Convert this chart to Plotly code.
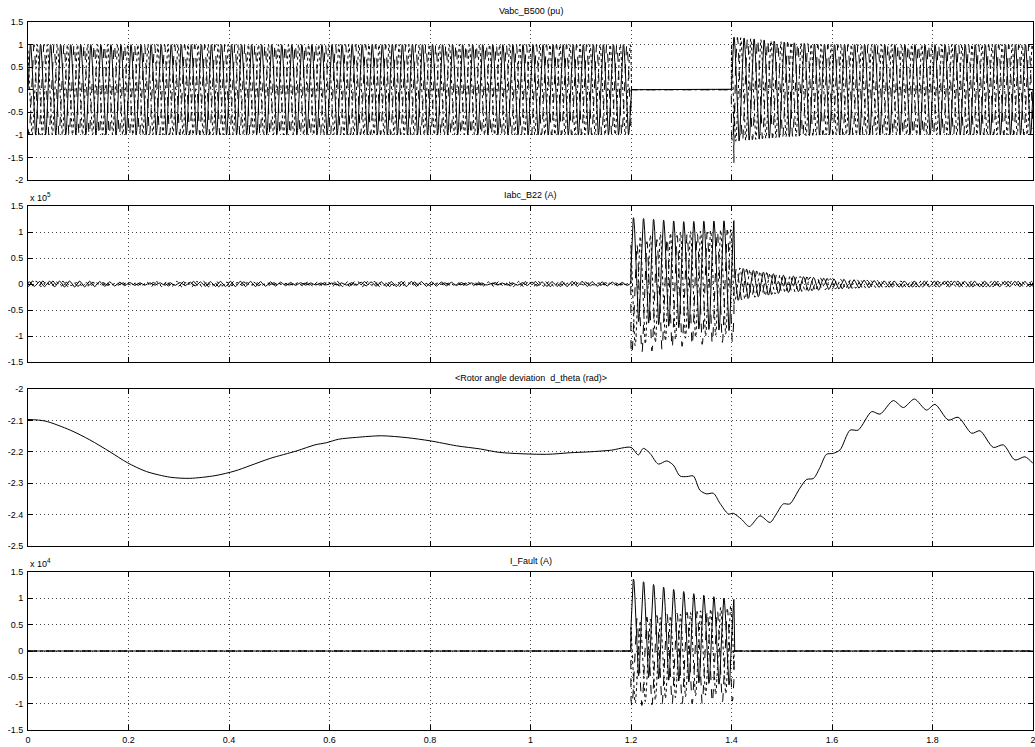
import numpy as np
import plotly.graph_objects as go

# ---------------- data ----------------
F_HZ = 50.0                      # waveform frequency (10 cycles between 1.2 s and 1.4 s)
PHASE_DEG = [0, -120, 120]       # phases a, b, c
DASHES = ["solid", "dash", "dot"]

x_tick_vals = [0, 0.2, 0.4, 0.6, 0.8, 1.0, 1.2, 1.4, 1.6, 1.8, 2.0]
x_tick_text = ["0", "0.2", "0.4", "0.6", "0.8", "1", "1.2", "1.4", "1.6", "1.8", "2"]

# Vabc_B500 (pu): envelope breakpoints
v_pre_t = [0.0, 1.2]
v_pre_up = [1.0, 1.0]
v_pre_lo = [-1.0, -1.0]
v_fault_start, v_fault_end = 1.2, 1.4
v_post_t = [1.40, 1.45, 1.50, 1.58, 2.0]
v_post_up = [1.17, 1.12, 1.06, 1.0, 1.0]
v_post_lo = [-1.15, -1.10, -1.05, -1.0, -1.0]
v_spike_t = [1.4040, 1.4050, 1.4060]
v_spike_v = [-0.5, -1.62, -0.8]
v_ticks = [-2, -1.5, -1, -0.5, 0, 0.5, 1, 1.5]
v_tick_text = ["-2", "-1.5", "-1", "-0.5", "0", "0.5", "1", "1.5"]

# Iabc_B22 (A)
i_pre_t = [0.0, 0.6, 1.2]
i_pre_amp = [6000, 5000, 5000]
i_flt_t = [1.2, 1.3, 1.405]
i_flt_up = [[128000, 120000, 122000],
            [75000, 95000, 105000],
            [90000, 100000, 105000]]
i_flt_lo = [[-70000, -85000, -90000],
            [-135000, -120000, -110000],
            [-120000, -105000, -95000]]
i_post_t = [1.405, 1.45, 1.5, 1.6, 1.7, 2.0]
i_post_amp = [33000, 25000, 17000, 10000, 6000, 5000]
i_ticks = [-150000, -100000, -50000, 0, 50000, 100000, 150000]
i_tick_text = ["-1.5", "-1", "-0.5", "0", "0.5", "1", "1.5"]

# Rotor angle deviation d_theta (rad)
rot_t = [0.0, 0.034, 0.084, 0.123, 0.163, 0.198, 0.236, 0.283, 0.322, 0.372, 0.412,
         0.442, 0.482, 0.535, 0.571, 0.594, 0.618, 0.654, 0.704, 0.754, 0.800, 0.853,
         0.900, 0.939, 1.032, 1.079, 1.118, 1.160, 1.200, 1.2146, 1.2245, 1.2378, 1.2544,
         1.271, 1.284, 1.2975, 1.311, 1.324, 1.337, 1.350, 1.364, 1.377, 1.394, 1.4036,
         1.420, 1.4355, 1.4567, 1.4766, 1.490, 1.503, 1.516, 1.536, 1.5496, 1.563, 1.576,
         1.589, 1.6026, 1.616, 1.636, 1.652, 1.679, 1.6955, 1.722, 1.742, 1.764, 1.788,
         1.805, 1.8315, 1.851, 1.878, 1.8945, 1.921, 1.941, 1.964, 1.984, 2.0]
rot_v = [-2.097, -2.102, -2.131, -2.162, -2.200, -2.235, -2.263, -2.281, -2.2845, -2.276, -2.261,
         -2.244, -2.221, -2.197, -2.178, -2.171, -2.160, -2.154, -2.149, -2.155, -2.165, -2.181,
         -2.191, -2.202, -2.208, -2.203, -2.200, -2.195, -2.186, -2.210, -2.189, -2.205, -2.239,
         -2.229, -2.242, -2.277, -2.279, -2.277, -2.322, -2.334, -2.332, -2.364, -2.398, -2.396,
         -2.415, -2.438, -2.404, -2.425, -2.396, -2.366, -2.366, -2.316, -2.288, -2.285, -2.250,
         -2.208, -2.205, -2.194, -2.131, -2.131, -2.072, -2.080, -2.037, -2.059, -2.032, -2.067,
         -2.049, -2.099, -2.090, -2.141, -2.133, -2.186, -2.178, -2.226, -2.216, -2.237]
r_ticks = [-2.5, -2.4, -2.3, -2.2, -2.1, -2.0]
r_tick_text = ["-2.5", "-2.4", "-2.3", "-2.2", "-2.1", "-2"]

# I_Fault (A)
f_t = [1.2, 1.27, 1.33, 1.405]
f_up = [[13800, 12000, 10800, 9800],
        [6000, 7000, 7500, 8000],
        [5500, 6500, 7500, 8700]]
f_lo = [[-4500, -5500, -6000, -6500],
        [-10500, -10000, -10000, -9500],
        [-10000, -9000, -8500, -8000]]
f_start, f_end = 1.2, 1.405
f_ticks = [-15000, -10000, -5000, 0, 5000, 10000, 15000]
f_tick_text = ["-1.5", "-1", "-0.5", "0", "0.5", "1", "1.5"]

titles = ["Vabc_B500 (pu)", "Iabc_B22 (A)",
          "&lt;Rotor angle deviation  d_theta (rad)&gt;", "I_Fault (A)"]

# ---------------- waveform construction ----------------
t = np.arange(0.0, 2.0 + 1e-9, 0.0004)
w = 2 * np.pi * F_HZ


def band(tt, tb, up, lo, ph):
    u = np.interp(tt, tb, up)
    l = np.interp(tt, tb, lo)
    return (u + l) / 2 + (u - l) / 2 * np.sin(w * tt + np.deg2rad(ph))


v_phases = []
for k, ph in enumerate(PHASE_DEG):
    pre = band(t, v_pre_t, v_pre_up, v_pre_lo, ph)
    post = band(t, v_post_t, v_post_up, v_post_lo, ph)
    y = np.where(t < v_fault_start, pre, np.where(t < v_fault_end, 0.0, post))
    if k == 1:
        for st, sv in zip(v_spike_t, v_spike_v):
            y[int(np.argmin(np.abs(t - st)))] = sv
    v_phases.append(y)

i_phases = []
for k, ph in enumerate(PHASE_DEG):
    amp_pre = np.interp(t, i_pre_t, i_pre_amp)
    pre = amp_pre * np.sin(w * t + np.deg2rad(ph) + 0.8) * (0.7 + 0.3 * np.sin(2 * np.pi * 3 * t + k))
    flt = band(t, i_flt_t, i_flt_up[k], i_flt_lo[k], ph)
    amp_post = np.interp(t, i_post_t, i_post_amp)
    post = amp_post * np.sin(w * t + np.deg2rad(ph) + 0.5)
    y = np.where(t < i_flt_t[0], pre, np.where(t < i_flt_t[-1], flt, post))
    i_phases.append(y)

f_phases = []
for k, ph in enumerate(PHASE_DEG):
    flt = band(t, f_t, f_up[k], f_lo[k], ph)
    y = np.where((t >= f_start) & (t < f_end), flt, 0.0)
    f_phases.append(y)

# ---------------- figure ----------------
W, H = 1035, 747
ML, MR, MT, MB = 28, 2, 22, 17
ph_h = H - MT - MB
panels_px = [(22, 180), (206, 362), (389, 546), (572, 730)]
domains = [((H - MB - b) / ph_h, (H - MB - a) / ph_h) for a, b in panels_px]

fig = go.Figure()
font_family = "Liberation Sans, Arial, sans-serif"

series = [v_phases, i_phases, None, f_phases]
for p in range(4):
    xa = "x" if p == 0 else f"x{p+1}"
    ya = "y" if p == 0 else f"y{p+1}"
    if series[p] is None:
        fig.add_trace(go.Scatter(x=rot_t, y=rot_v, mode="lines", xaxis=xa, yaxis=ya,
                                 line=dict(color="black", width=1, shape="spline", smoothing=0.8),
                                 showlegend=False, hoverinfo="skip"))
    else:
        for k in range(3):
            fig.add_trace(go.Scatter(x=t, y=series[p][k], mode="lines", xaxis=xa, yaxis=ya,
                                     line=dict(color="black", width=1, dash=DASHES[k]),
                                     showlegend=False, hoverinfo="skip"))

y_specs = [([-2, 1.5], v_ticks, v_tick_text),
           ([-150000, 150000], i_ticks, i_tick_text),
           ([-2.5, -2.0], r_ticks, r_tick_text),
           ([-15000, 15000], f_ticks, f_tick_text)]

axis_common = dict(showline=True, linecolor="black", linewidth=1, mirror="ticks",
                   ticks="inside", ticklen=5, tickcolor="black",
                   showgrid=True, gridcolor="#444444", griddash="1px,3px", gridwidth=1,
                   zeroline=False, automargin=False, ticklabeloverflow="allow",
                   tickfont=dict(family=font_family, size=9, color="black"))

layout = dict(width=W, height=H, margin=dict(l=ML, r=MR, t=MT, b=MB, autoexpand=False),
              paper_bgcolor="white", plot_bgcolor="white", showlegend=False)
for p in range(4):
    xk = "xaxis" if p == 0 else f"xaxis{p+1}"
    yk = "yaxis" if p == 0 else f"yaxis{p+1}"
    xa_anchor = "y" if p == 0 else f"y{p+1}"
    ya_anchor = "x" if p == 0 else f"x{p+1}"
    layout[xk] = dict(axis_common, range=[0, 2], tickvals=x_tick_vals, ticktext=x_tick_text,
                      showticklabels=(p == 3), anchor=xa_anchor, domain=[0, 1], ticklabelstandoff=1)
    rng, tv, tt = y_specs[p]
    layout[yk] = dict(axis_common, range=rng, tickvals=tv, ticktext=tt, anchor=ya_anchor,
                      domain=list(domains[p]), ticklabelstandoff=2)
fig.update_layout(**layout)

ann = []
for p in range(4):
    ann.append(dict(text=titles[p], x=0.5, xref="paper", y=domains[p][1], yref="paper",
                    xanchor="center", yanchor="middle", yshift=11, showarrow=False,
                    font=dict(family=font_family, size=9, color="black")))
ann.append(dict(text="x 10<sup>5</sup>", x=0, xref="paper", y=domains[1][1], yref="paper",
                xanchor="left", yanchor="bottom", yshift=1, showarrow=False,
                font=dict(family=font_family, size=9, color="black")))
ann.append(dict(text="x 10<sup>4</sup>", x=0, xref="paper", y=domains[3][1], yref="paper",
                xanchor="left", yanchor="bottom", yshift=1, showarrow=False,
                font=dict(family=font_family, size=9, color="black")))
fig.update_layout(annotations=ann)

fig.write_html("out.html", config={"displayModeBar": False},
               post_script="document.body.style.margin='0';document.body.style.overflow='hidden';")
